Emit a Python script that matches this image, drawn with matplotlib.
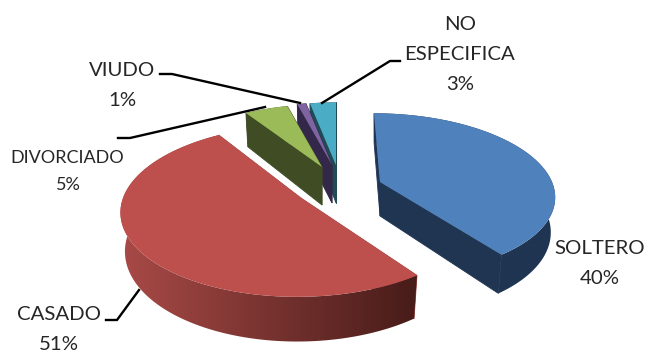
import numpy as np
import matplotlib
matplotlib.use('Agg')
import matplotlib.pyplot as plt
from matplotlib.patches import Polygon
from matplotlib.colors import to_rgb

categories = ['SOLTERO', 'CASADO', 'DIVORCIADO', 'VIUDO', 'NO ESPECIFICA']
values = [40, 51, 5, 1, 3]

top_cols = ['#4f81bd', '#bd4f4c', '#9bbb59', '#8064a2', '#4bacc6']
side_a = ['#1f3552', '#a94a47', '#3f4c24', '#33284a', '#1f4a56']
side_b = ['#1f3552', '#471c19', '#3f4c24', '#33284a', '#1f4a56']

# apex, radii, skew and thickness of each exploded slice
apex = [(380, 182), (301, 198), (322, 167), (332, 165), (336, 165)]
rad = [(172, 79), (178, 84), (160, 72), (160, 72), (160, 72)]
skew = [0.088, -0.04, 0, 0, 0]
depth = [34, 38, 38, 38, 38]
persp = 0.15
bottom_scale = 0.975

fig = plt.figure(figsize=(6.49, 3.52), dpi=100)
ax = fig.add_axes([0, 0, 1, 1])
ax.set_xlim(0, 649)
ax.set_ylim(352, 0)
ax.axis('off')

fracs = np.array(values) / sum(values)
edges = np.concatenate([[0], np.cumsum(fracs)]) * 2 * np.pi


def project(i, t):
    # near side of the pie comes out bigger than the far side
    u, v = np.sin(t), -np.cos(t)
    s = 1 / (1 - persp * v)
    y = rad[i][1] * v * s
    x = apex[i][0] + rad[i][0] * u * s + skew[i] * y
    return x, apex[i][1] + y, depth[i] * s


def draw_slice(i, z):
    cx, cy = apex[i]
    t = np.linspace(edges[i], edges[i + 1], 200)
    x, y, d = project(i, t)
    # lower ring is a little narrower than the upper one
    xb = cx + (x - cx) * bottom_scale
    yb = y + d
    # outer rim with a left to right gradient
    rim = Polygon(np.vstack([np.column_stack([x, y]), np.column_stack([xb, yb])[::-1]]),
                  fc='none', ec='none', zorder=z + 0.1)
    ax.add_patch(rim)
    a, b = np.array(to_rgb(side_a[i])), np.array(to_rgb(side_b[i]))
    ramp = np.linspace(0, 1, 256)[:, None] * (b - a) + a
    im = ax.imshow(ramp[None, :, :], extent=(x.min(), x.max(), yb.max(), y.min()),
                   aspect='auto', zorder=z + 0.1)
    im.set_clip_path(rim)
    # flat cut faces: over a plain rim to hide the seam, under a shaded one
    face_z = z + 0.2 if side_a[i] == side_b[i] else z
    for k in (0, -1):
        ax.add_patch(Polygon([(cx, cy), (x[k], y[k]), (xb[k], yb[k]), (cx, cy + depth[i])],
                             fc=side_a[i], ec=side_a[i], lw=0.6, zorder=face_z))
    ax.add_patch(Polygon(np.vstack([[cx, cy], np.column_stack([x, y])]),
                         fc=top_cols[i], ec='none', zorder=z + 0.5))


for z, i in enumerate([4, 3, 2, 0, 1]):
    draw_slice(i, z + 1)
ax.set_xlim(0, 649)
ax.set_ylim(352, 0)

label_lines = [
    ('SOLTERO', 600, 249, 14.7), (f'{values[0]}%', 600, 279, 14.7),
    ('CASADO', 59, 315, 14.7), (f'{values[1]}%', 59, 344, 14.7),
    ('DIVORCIADO', 67, 158, 13), (f'{values[2]}%', 68, 185, 13),
    ('VIUDO', 122, 70, 14.7), (f'{values[3]}%', 122, 100, 14.7),
    ('NO', 460, 25, 14.7), ('ESPECIFICA', 460, 55, 14.7), (f'{values[4]}%', 460, 85, 14.7),
]
for s, px, py, fs in label_lines:
    ax.text(px, py, s, ha='center', va='center', fontsize=fs, family='Lato',
            color='#262626', zorder=10)

# leader lines
leaders = [
    [(106, 320), (117, 320), (139, 290)],
    [(118, 138), (130, 138), (265, 107)],
    [(160, 74), (172, 74), (300, 103)],
    [(400, 61), (390, 61), (322, 103)],
]
for pts in leaders:
    p = np.array(pts)
    ax.plot(p[:, 0], p[:, 1], color='black', lw=1.7, zorder=9)

fig.savefig('out.png', dpi=100)
